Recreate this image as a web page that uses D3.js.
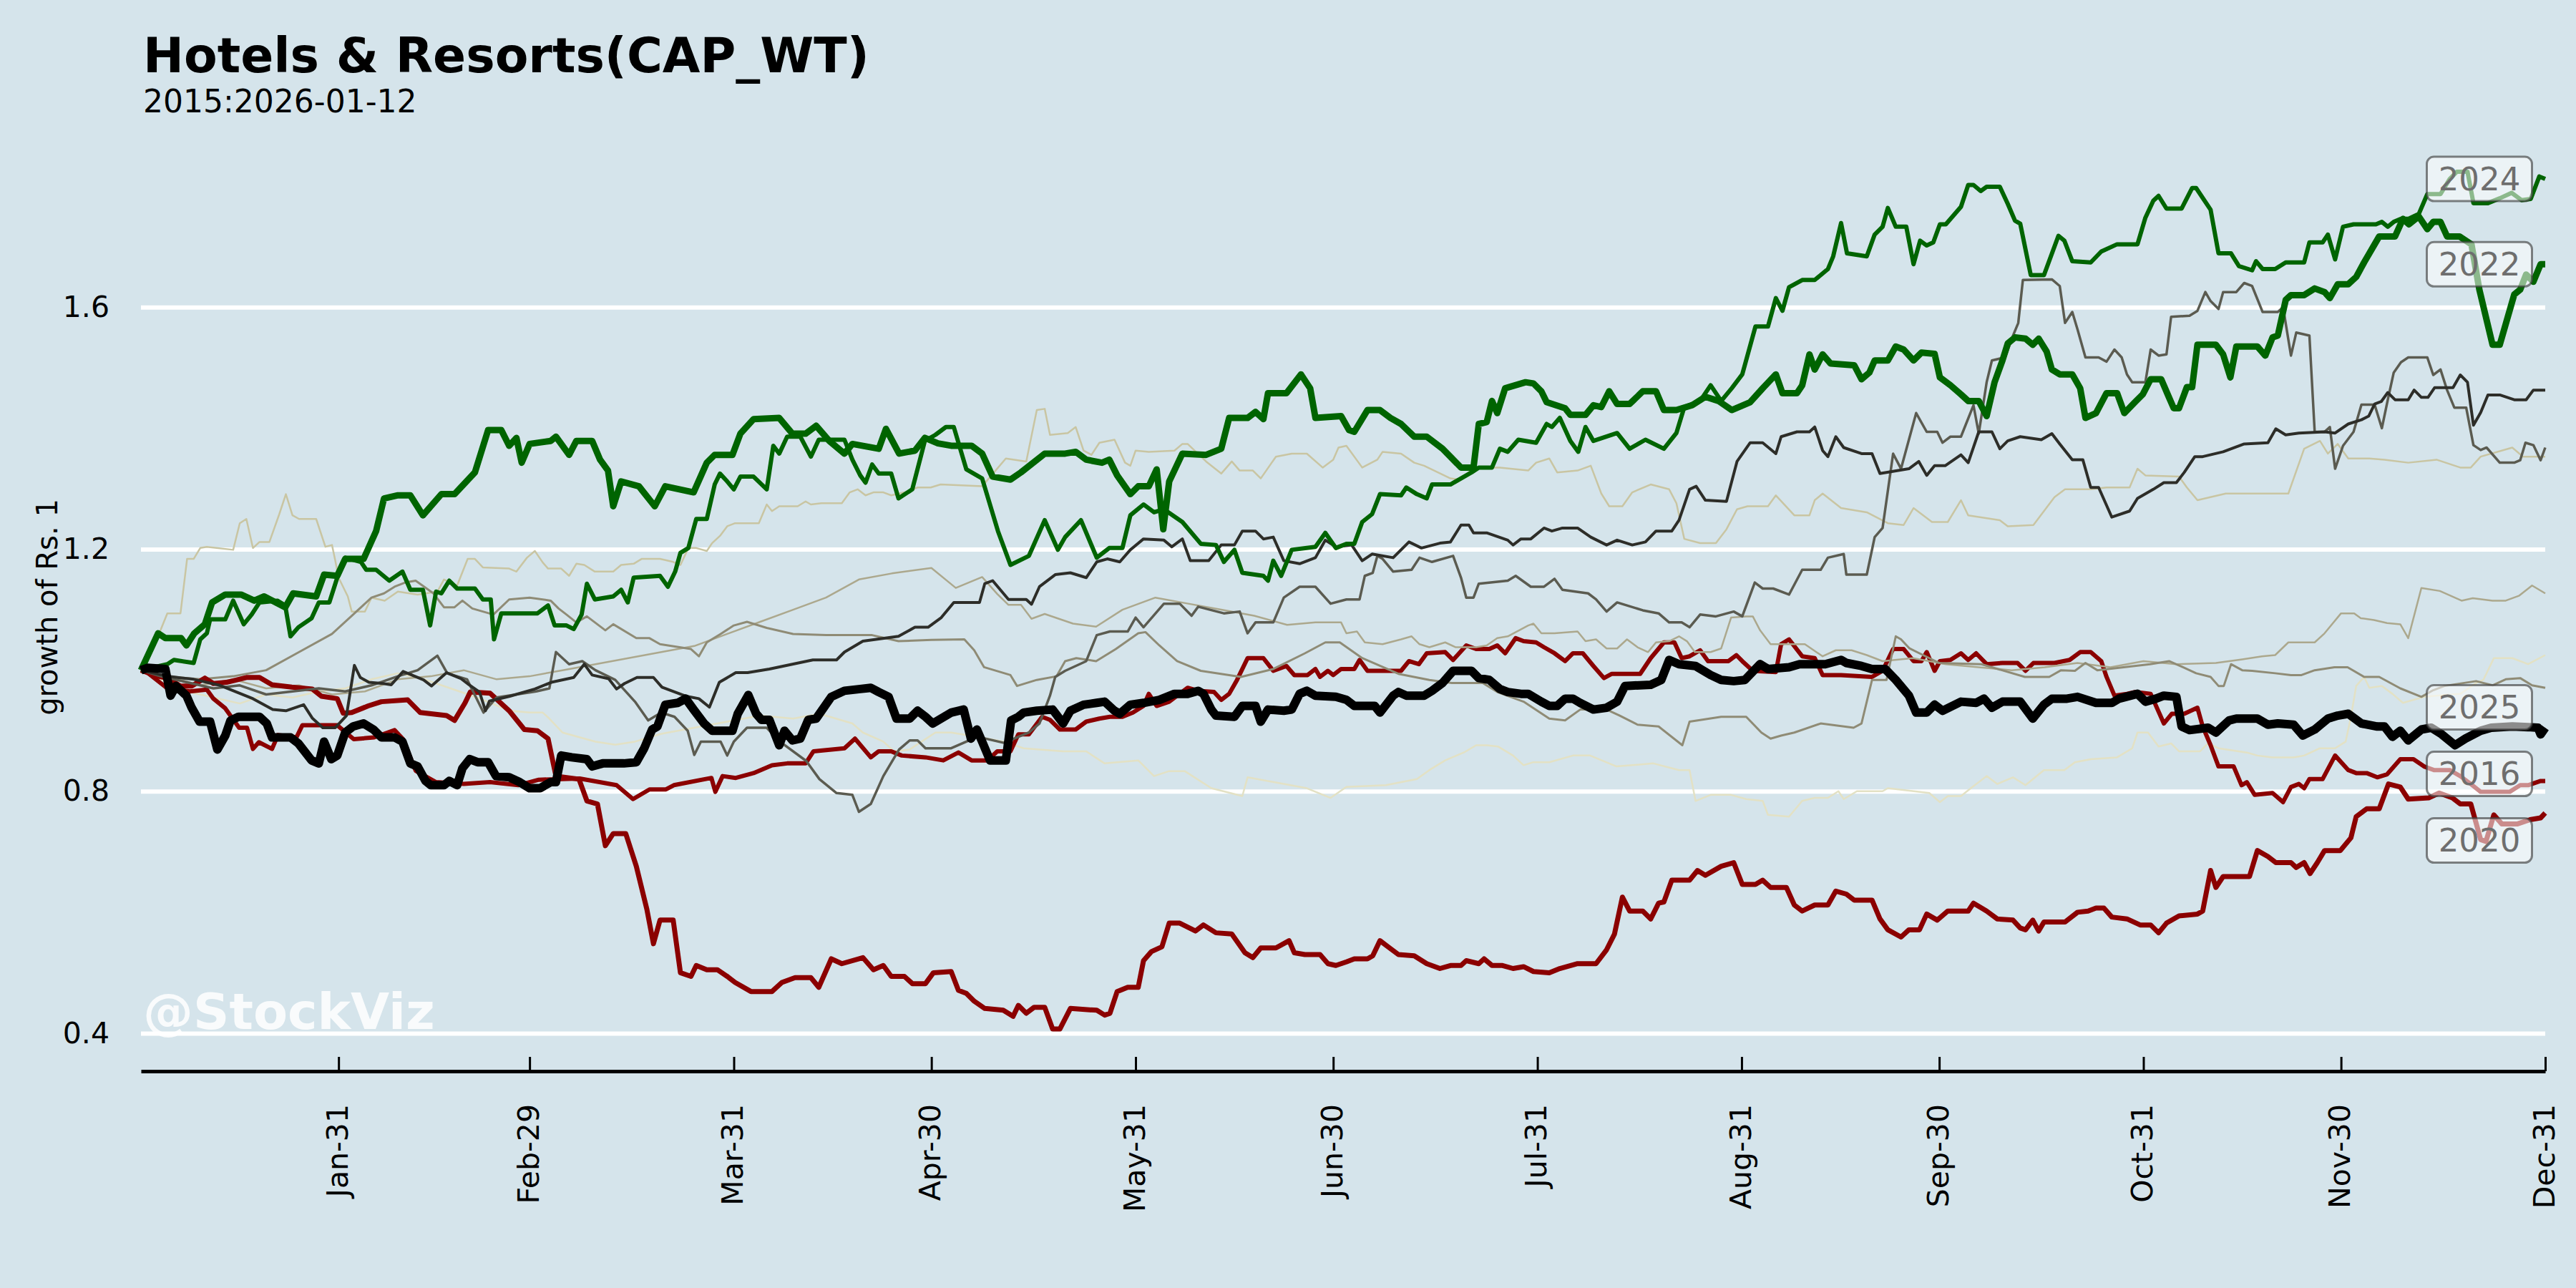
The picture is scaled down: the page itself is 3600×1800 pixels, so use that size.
<!DOCTYPE html>
<html>
<head>
<meta charset="utf-8">
<script src="https://cdn.jsdelivr.net/npm/d3@7"></script>
<style>
  html, body { margin: 0; padding: 0; background: #d5e4eb; }
  svg { display: block; }
  text { font-family: "DejaVu Sans", sans-serif; }
</style>
</head>
<body>
<div id="chart"></div>
<script>
const width = 3600, height = 1800;

const title = "Hotels & Resorts(CAP_WT)";
const subtitle = "2015:2026-01-12";
const yLabel = "growth of Rs. 1";
const watermark = "@StockViz";

const yTicks = [0.4, 0.8, 1.2, 1.6];
const xTickDays = [31, 60, 91, 121, 152, 182, 213, 244, 274, 305, 335, 366];
const xTickLabels = ["Jan-31", "Feb-29", "Mar-31", "Apr-30", "May-31", "Jun-30",
                     "Jul-31", "Aug-31", "Sep-30", "Oct-31", "Nov-30", "Dec-31"];

// [day of year, growth of Rs. 1]
const y2015 = [[1,1.0],[4,0.985],[8,0.965],[12,0.955],[16,0.945],[20,0.96],[24,0.955],[28,0.965],[32,0.97],[36,0.985],[40,0.995],[44,0.985],[48,0.97],[52,0.955],[57,0.933],[60,0.93],[62,0.93],[63,0.92],[65,0.897],[70,0.882],[73,0.877],[76,0.882],[80,0.895],[85,0.905],[90,0.915],[95,0.925],[100,0.92],[104,0.928],[109,0.912],[110.6,0.897],[113.7,0.882],[115.3,0.866],[117.7,0.869],[121.6,0.897],[124,0.897],[128,0.89],[132,0.882],[135,0.871],[141,0.866],[144.5,0.866],[147.3,0.846],[152.4,0.851],[154.8,0.825],[157,0.833],[159.5,0.833],[163.5,0.805],[168.2,0.792],[169,0.823],[173,0.815],[178,0.805],[181.6,0.789],[184,0.807],[190,0.81],[194.7,0.82],[196.6,0.835],[199,0.851],[202,0.865],[203.7,0.876],[205.3,0.876],[207,0.874],[209.3,0.859],[210.9,0.843],[212.4,0.848],[214.8,0.848],[218.4,0.859],[221,0.859],[225,0.841],[230.6,0.846],[234.5,0.835],[236.1,0.835],[237,0.784],[239.3,0.794],[242.4,0.794],[244.7,0.787],[247.2,0.784],[248,0.761],[251.2,0.758],[253.2,0.784],[255.1,0.789],[257.1,0.789],[258.7,0.8],[259.5,0.787],[261.5,0.8],[265.4,0.8],[266.2,0.805],[272.5,0.797],[274.1,0.782],[275.3,0.792],[277.3,0.792],[278.8,0.805],[281.2,0.825],[282.8,0.812],[285.2,0.823],[287.1,0.81],[289.9,0.835],[293,0.835],[294.6,0.848],[297,0.853],[301,0.856],[303.3,0.871],[304.1,0.897],[305.7,0.897],[307.3,0.874],[309.2,0.879],[310.4,0.866],[313.6,0.866],[314.8,0.879],[316.4,0.871],[320.7,0.864],[322.3,0.859],[324.6,0.856],[327.8,0.856],[329.4,0.859],[331.8,0.871],[334.1,0.871],[335.7,0.882],[336.5,0.923],[337.3,0.974],[338.5,0.989],[339.3,0.971],[341.2,0.974],[342.8,0.961],[344.4,0.946],[347.6,0.956],[350.7,0.959],[353.1,0.961],[355.5,0.979],[356.6,0.984],[358.2,1.02],[361,1.02],[363.4,1.01],[366,1.025]];

const y2016 = [[1,1.0],[2,0.996],[5,0.97],[8.4,0.965],[11,0.968],[12,0.953],[13.8,0.937],[15.9,0.905],[17.1,0.905],[18,0.87],[18.9,0.881],[20.9,0.87],[21.8,0.893],[24.6,0.889],[25.5,0.909],[30.8,0.909],[33.3,0.886],[36.4,0.889],[39.5,0.901],[40.8,0.886],[42.7,0.834],[45.8,0.815],[50,0.812],[54,0.815],[58.3,0.81],[61.4,0.819],[67.6,0.821],[73.2,0.81],[75.7,0.787],[78.2,0.803],[80.7,0.803],[81.9,0.81],[87.6,0.822],[88.2,0.799],[89.3,0.825],[91.3,0.822],[94,0.83],[96.8,0.843],[99.1,0.846],[101.9,0.846],[103.1,0.866],[107.8,0.871],[109.4,0.887],[111.8,0.856],[113,0.866],[114.9,0.866],[116.5,0.859],[120.1,0.856],[122.8,0.851],[125.1,0.864],[127.1,0.851],[129.5,0.851],[131,0.866],[133,0.866],[134.2,0.894],[135.8,0.894],[137.8,0.923],[139,0.918],[140.5,0.902],[142.9,0.902],[144.5,0.915],[146.5,0.92],[148.1,0.923],[150,0.923],[151.6,0.93],[153.2,0.941],[154,0.961],[155.2,0.941],[157.1,0.948],[159.9,0.971],[161.5,0.966],[163.9,0.964],[165,0.951],[166.2,0.961],[167.4,0.984],[169,1.02],[171.4,1.02],[172.9,0.999],[174.9,1.007],[176.1,0.992],[178.1,0.992],[179.3,1.002],[180,0.989],[181.2,0.999],[182,0.992],[183.2,1.002],[185.2,1.002],[186,1.017],[187.2,0.999],[192.3,0.999],[193.5,1.015],[195,1.01],[196.2,1.028],[199,1.03],[200.2,1.017],[202.2,1.041],[203.7,1.035],[205.7,1.035],[206.9,1.041],[208.1,1.028],[209.7,1.053],[210.9,1.048],[212.8,1.046],[214,1.038],[215.6,1.028],[217.2,1.015],[218.4,1.028],[219.9,1.028],[221.5,1.007],[223.1,0.987],[224.3,0.994],[228.6,0.994],[230.2,1.02],[232.2,1.046],[233.8,1.046],[234.9,1.02],[236.1,1.023],[237.7,1.033],[238.9,1.015],[242,1.015],[243.2,1.025],[244.1,1.015],[245.7,0.999],[249.2,0.997],[250,1.043],[251.2,1.051],[253.2,1.023],[255.1,1.02],[256.3,0.992],[259.1,0.992],[263.8,0.989],[265.4,0.999],[267,1.035],[268.6,1.035],[270.1,1.015],[271.3,1.015],[272.1,1.03],[273.3,0.999],[274.1,1.015],[275.7,1.017],[277.3,1.028],[278.4,1.017],[279.6,1.028],[281.2,1.01],[283.6,1.012],[285.9,1.012],[287.1,0.999],[288.3,1.012],[291.5,1.012],[293.8,1.017],[295.4,1.03],[297,1.03],[298.6,1.015],[299.4,0.989],[300.6,0.958],[302.5,0.961],[303.7,0.964],[306.1,0.961],[308.1,0.912],[309.3,0.928],[311.2,0.928],[313.2,0.938],[314,0.907],[315.2,0.876],[316.4,0.841],[318.7,0.841],[319.9,0.81],[320.7,0.815],[321.9,0.794],[324.6,0.797],[326.2,0.782],[327.4,0.807],[328.6,0.812],[329.4,0.805],[330.2,0.82],[332.2,0.82],[334.1,0.859],[336.1,0.835],[337.3,0.83],[338.9,0.83],[340.5,0.823],[342,0.828],[344,0.853],[346,0.853],[347.6,0.841],[349.1,0.835],[351.5,0.835],[353.1,0.825],[354.7,0.812],[356.2,0.799],[360.6,0.799],[362.2,0.81],[363.4,0.81],[365.3,0.817],[366,0.817]];

const y2017 = [[1,1.0],[4,1.067],[5,1.094],[7,1.094],[8,1.184],[9,1.184],[10,1.202],[11,1.204],[15,1.199],[16,1.243],[17,1.25],[18,1.202],[19,1.212],[20.5,1.212],[22,1.258],[23,1.291],[24,1.256],[25,1.25],[27.6,1.25],[29,1.204],[30,1.207],[30.5,1.181],[31,1.153],[32.4,1.122],[33,1.097],[35,1.097],[36,1.12],[38,1.115],[40,1.13],[43,1.125],[46,1.13],[47,1.15],[49,1.14],[50.6,1.184],[51.7,1.184],[52.9,1.17],[56.9,1.168],[58,1.163],[59.6,1.186],[60.8,1.197],[62,1.178],[62.8,1.168],[64.8,1.168],[66,1.156],[67.1,1.176],[68.3,1.174],[69.9,1.163],[72.7,1.163],[73.9,1.174],[75.8,1.176],[77,1.184],[79.8,1.184],[81.8,1.179],[82.9,1.174],[84.1,1.202],[85.3,1.202],[86.9,1.197],[87.7,1.21],[88.9,1.222],[90,1.238],[91.2,1.243],[94.8,1.243],[96,1.274],[96.8,1.263],[97.9,1.271],[100.7,1.271],[101.9,1.279],[102.7,1.274],[104.3,1.276],[107.4,1.276],[108.6,1.294],[109.8,1.299],[111,1.289],[112.2,1.294],[113.7,1.294],[114.9,1.289],[116.9,1.294],[118.9,1.302],[120.9,1.302],[122.4,1.307],[128.7,1.304],[132.3,1.35],[135.4,1.345],[137,1.43],[138.2,1.432],[139,1.389],[141.7,1.392],[142.9,1.402],[144.1,1.363],[145.3,1.356],[146.5,1.376],[148.8,1.381],[150.4,1.343],[151.2,1.338],[152,1.363],[154,1.361],[157.9,1.363],[159.1,1.374],[159.9,1.374],[162.7,1.345],[165,1.325],[166.6,1.345],[167.8,1.33],[169.8,1.33],[171,1.317],[173.3,1.353],[175.7,1.358],[178,1.358],[180.4,1.335],[182,1.348],[182.8,1.368],[184,1.371],[186.4,1.335],[188.7,1.348],[189.5,1.361],[192.3,1.358],[194.3,1.343],[195.8,1.338],[199.8,1.317],[201.4,1.315],[203.3,1.335],[207.3,1.335],[211.6,1.33],[212.8,1.343],[214.8,1.35],[216,1.327],[219.1,1.33],[221.1,1.338],[222.7,1.292],[223.9,1.271],[225.9,1.271],[227.4,1.294],[230.2,1.307],[233,1.299],[234.1,1.276],[235.3,1.217],[237.7,1.21],[240.1,1.21],[241.7,1.233],[243.3,1.266],[244.9,1.271],[248,1.271],[249.2,1.289],[252,1.256],[254.3,1.256],[255.1,1.281],[256.3,1.292],[259.1,1.268],[263,1.261],[266.2,1.243],[268.6,1.24],[270.1,1.268],[272.9,1.245],[275.3,1.245],[277.3,1.281],[278.4,1.256],[283.2,1.248],[284.4,1.238],[288.3,1.24],[289.9,1.263],[291.5,1.286],[293.1,1.299],[297,1.299],[299.4,1.302],[302.9,1.302],[304.1,1.333],[305.3,1.322],[310.4,1.32],[311.6,1.302],[313.2,1.281],[317.5,1.292],[327,1.292],[329.4,1.366],[331.8,1.379],[333,1.358],[334.5,1.374],[336.1,1.35],[339.3,1.35],[341.6,1.348],[345.2,1.343],[349.5,1.348],[353.1,1.335],[354.7,1.335],[356.2,1.353],[361,1.368],[362.6,1.353],[366,1.353]];

const y2018 = [[1,1.0],[5,0.99],[10,0.975],[15,0.985],[20,0.97],[25,0.975],[30,0.96],[35,0.965],[40,0.985],[45,0.99],[50,1.0],[55,0.985],[60,0.99],[65,1.0],[70,1.01],[75,1.02],[80,1.03],[85,1.04],[90,1.06],[95,1.08],[100,1.1],[105,1.12],[110,1.15],[115,1.16],[121,1.169],[124.7,1.136],[128.7,1.154],[131,1.126],[132.7,1.108],[134.6,1.108],[136.2,1.085],[138.2,1.093],[142.5,1.077],[146,1.072],[150,1.1],[155,1.12],[160,1.11],[165,1.1],[170,1.09],[175,1.075],[179.3,1.079],[183.2,1.079],[184,1.061],[185.6,1.064],[186.8,1.046],[189.5,1.043],[192.3,1.051],[193.9,1.056],[195.1,1.043],[196.6,1.038],[199,1.046],[200.6,1.038],[203.7,1.038],[205.3,1.041],[206.9,1.053],[208.5,1.056],[211.6,1.074],[212.4,1.077],[213.6,1.061],[215.6,1.061],[219.1,1.064],[220.3,1.048],[221.9,1.051],[223.5,1.036],[225.1,1.036],[226.6,1.051],[228.2,1.038],[229.8,1.03],[231,1.046],[233,1.048],[234.5,1.056],[235.7,1.048],[236.9,1.03],[239.3,1.03],[240.9,1.036],[242.4,1.087],[244.7,1.089],[245.7,1.089],[246.8,1.066],[248.4,1.043],[253.6,1.043],[256.3,1.023],[258.3,1.033],[260.7,1.033],[263,1.025],[265.4,1.015],[270,1.02],[275,1.01],[280,1.005],[285,1.0],[290,1.005],[295,1.012],[300,1.005],[305,1.015],[310,1.01],[316,1.012],[320,1.018],[323,1.023],[325,1.025],[327,1.046],[331,1.046],[332.5,1.061],[335,1.094],[337,1.094],[338,1.086],[340,1.083],[342,1.078],[344,1.076],[345.2,1.053],[347.2,1.136],[350,1.131],[353.3,1.115],[355,1.119],[358,1.115],[360,1.115],[362,1.123],[364,1.14],[366,1.127]];

const y2019 = [[1,1.0],[5,0.99],[10,0.985],[15,0.99],[20,1.0],[25,1.03],[30,1.06],[33,1.09],[36,1.12],[37.9,1.127],[39.5,1.138],[41.1,1.145],[42.7,1.148],[45.4,1.127],[47,1.104],[48.6,1.104],[49.8,1.115],[51.3,1.102],[54.5,1.092],[56.9,1.117],[60,1.12],[63.2,1.115],[64.4,1.102],[65.6,1.092],[67.1,1.079],[68.7,1.089],[71.5,1.066],[72.7,1.076],[76.2,1.053],[78.2,1.053],[79.8,1.043],[84.5,1.035],[85.7,1.023],[86.9,1.046],[89,1.06],[91,1.074],[93,1.08],[96,1.07],[100,1.06],[105,1.058],[112,1.058],[116,1.048],[121,1.05],[126,1.051],[127.5,1.033],[129,1.005],[133,0.992],[134,0.974],[137,0.984],[140,0.99],[141.3,1.015],[143,1.02],[146,1.015],[149,1.035],[152.4,1.061],[153.5,1.063],[155.6,1.041],[158.3,1.015],[161.9,0.999],[168,0.989],[172.9,1.002],[177.7,1.028],[180.8,1.046],[183,1.046],[186.4,1.02],[191.9,0.994],[196.6,0.984],[200,0.979],[204.7,0.979],[206.9,0.964],[210.9,0.948],[214.8,0.92],[217.2,0.917],[219.5,0.935],[223.5,0.935],[225.5,0.925],[228.2,0.91],[231.4,0.907],[235,0.876],[236.1,0.915],[240.9,0.923],[244.7,0.923],[247,0.897],[248.4,0.887],[250,0.892],[252,0.897],[256,0.912],[261,0.905],[262.2,0.912],[263.8,0.984],[266,0.984],[267.4,1.056],[268.2,1.051],[269.5,1.036],[271,1.028],[272.5,1.02],[274,1.012],[280.4,1.01],[287,0.989],[290.7,0.989],[292.5,1.0],[294.6,0.999],[296.2,1.012],[298,1.0],[302,1.005],[306,1.01],[308.9,1.015],[311,1.005],[313,0.995],[315.2,0.989],[316.4,0.974],[317.2,0.974],[318.3,1.01],[320,1.0],[321.5,0.999],[325,0.995],[327.4,0.992],[329,0.992],[331,1.0],[334,1.005],[336,1.005],[338.5,0.989],[340.8,0.989],[344,0.97],[347.2,0.956],[349,0.967],[350.7,0.974],[355.5,0.982],[358,0.975],[360,0.985],[362.2,0.987],[364,0.975],[366,0.971]];

const y2020 = [[1,1.0],[3.6,0.99],[5,0.987],[7,0.974],[8.7,0.974],[10.7,0.987],[12,0.978],[14,0.98],[17,0.988],[19,0.988],[20.9,0.976],[23.9,0.972],[27,0.969],[28.4,0.957],[30.8,0.953],[31.7,0.929],[33,0.93],[35.5,0.941],[37.5,0.948],[41.5,0.951],[43.4,0.93],[47.4,0.925],[48.6,0.917],[50.2,0.946],[51,0.964],[54,0.962],[56.9,0.933],[59.2,0.902],[61.2,0.9],[62.8,0.887],[64,0.825],[67.5,0.82],[68.7,0.784],[70.3,0.779],[71.5,0.71],[72.7,0.73],[74.6,0.73],[76.2,0.676],[77.8,0.605],[78.8,0.548],[79.8,0.587],[81.8,0.587],[82.9,0.5],[84.5,0.494],[85.3,0.512],[86.9,0.505],[88.5,0.505],[90,0.494],[91.2,0.484],[93.6,0.469],[96.8,0.469],[98.3,0.484],[100.3,0.492],[102.7,0.492],[103.9,0.476],[105.8,0.523],[107.4,0.515],[110.6,0.525],[112.2,0.505],[113.7,0.512],[114.9,0.494],[116.9,0.494],[118.1,0.482],[120.1,0.482],[121.3,0.5],[124,0.502],[125.1,0.471],[126.3,0.466],[127.5,0.453],[129.1,0.441],[131.9,0.438],[133.4,0.428],[134.2,0.446],[135.4,0.433],[136.6,0.443],[138.2,0.443],[139.4,0.407],[140.5,0.407],[142.1,0.441],[146.1,0.438],[147.3,0.43],[148.1,0.433],[149.2,0.469],[150.8,0.476],[152.4,0.476],[153.2,0.52],[154.4,0.535],[156,0.543],[157.1,0.582],[158.7,0.582],[161.1,0.569],[162.3,0.579],[164.2,0.566],[166.6,0.564],[168.6,0.533],[169.8,0.525],[171,0.541],[173.3,0.541],[175.3,0.553],[176.1,0.533],[177.7,0.53],[180,0.53],[181.2,0.515],[182.4,0.512],[184,0.518],[185.2,0.523],[187.2,0.523],[188,0.528],[189.1,0.553],[190.3,0.543],[191.9,0.53],[194.3,0.528],[196.2,0.515],[198.2,0.507],[199.8,0.512],[201.4,0.512],[202.2,0.52],[204.1,0.515],[204.9,0.523],[206.1,0.512],[207.7,0.512],[209.3,0.507],[210.9,0.51],[212.4,0.502],[214.8,0.5],[216.4,0.507],[219.1,0.515],[221.9,0.515],[223.5,0.538],[224.7,0.564],[225.9,0.625],[227,0.602],[229,0.602],[230.2,0.589],[231.4,0.615],[232.2,0.617],[233.4,0.653],[236.1,0.653],[237.3,0.669],[238.5,0.661],[240.9,0.676],[242.8,0.682],[244.1,0.646],[246.1,0.646],[247.2,0.653],[248.4,0.641],[250.8,0.641],[252,0.612],[253.2,0.602],[255.1,0.612],[257.1,0.612],[258.3,0.635],[259.9,0.63],[261.1,0.62],[263.8,0.62],[265,0.589],[266.2,0.571],[268.2,0.559],[269.4,0.571],[271,0.571],[272.1,0.597],[273.7,0.587],[275.3,0.602],[278.4,0.602],[279.2,0.615],[281.2,0.602],[282.8,0.589],[285.2,0.587],[286.3,0.574],[287.1,0.571],[288.2,0.587],[289.1,0.569],[289.9,0.584],[293.1,0.584],[295,0.6],[296.6,0.602],[297.8,0.607],[299,0.607],[300.2,0.592],[302.5,0.589],[304.5,0.579],[306.1,0.579],[307.3,0.566],[308.5,0.582],[310.4,0.594],[313.2,0.597],[314,0.602],[315.2,0.669],[316,0.641],[317.1,0.659],[321.1,0.659],[322.3,0.702],[323.9,0.692],[325.1,0.682],[327.4,0.682],[328.2,0.674],[329.4,0.682],[330.3,0.664],[331.4,0.682],[332.5,0.702],[334.9,0.702],[336.5,0.723],[337.3,0.758],[338.9,0.771],[340.8,0.771],[342.2,0.812],[344,0.807],[345.2,0.787],[348.3,0.789],[349.9,0.797],[351.9,0.789],[353.1,0.779],[354.7,0.779],[356.2,0.72],[357,0.717],[358.2,0.761],[359.4,0.746],[361.8,0.746],[363.7,0.753],[365.3,0.756],[366,0.764]];

const y2021 = [[1,1.0],[4,0.99],[8,0.98],[12,0.97],[16,0.975],[20,0.96],[24,0.965],[28,0.97],[32,0.965],[36,0.975],[40,0.99],[43,1.0],[46,1.024],[47.5,0.995],[49,0.99],[50.5,0.985],[53,0.93],[55,0.955],[58,0.96],[61,0.965],[63,0.97],[64,1.03],[66,1.01],[68,1.015],[70,1.0],[73,0.984],[76,0.948],[78,0.917],[80,0.93],[82,0.923],[84,0.9],[85,0.86],[86,0.882],[89,0.882],[90,0.859],[91,0.882],[93,0.905],[96,0.905],[98,0.882],[102,0.85],[104,0.82],[106.6,0.797],[109,0.794],[110,0.766],[111.8,0.779],[113.7,0.825],[116.1,0.869],[117.7,0.884],[118.9,0.884],[120.1,0.871],[124,0.871],[128,0.89],[132,0.88],[135.8,0.897],[137.4,0.912],[139,0.958],[139.8,0.989],[141.3,0.999],[144.5,1.015],[146.1,1.058],[148.1,1.064],[150.8,1.064],[152,1.087],[153.2,1.071],[156.3,1.11],[158.7,1.11],[160.5,1.09],[161.5,1.105],[165.4,1.094],[167.8,1.097],[169,1.061],[170.2,1.079],[172.9,1.079],[174.5,1.12],[176.9,1.138],[179.3,1.138],[181.6,1.11],[184,1.117],[186,1.117],[186.8,1.156],[188,1.161],[188.7,1.189],[189.5,1.184],[191.1,1.163],[193.9,1.166],[195.1,1.186],[197,1.179],[200.2,1.189],[201.4,1.153],[202.2,1.12],[203.3,1.12],[204.1,1.143],[208.5,1.148],[209.7,1.156],[212,1.138],[214,1.138],[215.6,1.151],[216.8,1.133],[220.7,1.127],[221.9,1.117],[223.5,1.097],[225.1,1.112],[229,1.099],[231.4,1.094],[233,1.079],[234.9,1.079],[236.1,1.071],[237.7,1.092],[240.1,1.089],[242.8,1.097],[244.1,1.089],[246,1.145],[247.2,1.135],[248.8,1.135],[251.2,1.125],[253.2,1.166],[256,1.166],[257.1,1.186],[259.5,1.192],[259.9,1.158],[263,1.158],[264.2,1.22],[265.4,1.235],[267,1.358],[268.2,1.333],[270.5,1.425],[272.1,1.394],[273.7,1.394],[274.5,1.376],[275.7,1.386],[277.3,1.386],[279.2,1.438],[280,1.391],[281.2,1.476],[282,1.512],[284,1.517],[285.2,1.553],[286,1.574],[286.7,1.645],[291.1,1.646],[292.3,1.635],[293.1,1.574],[294.2,1.592],[295,1.563],[296.2,1.517],[298.2,1.517],[299.4,1.51],[300.6,1.53],[301.7,1.517],[302.5,1.489],[303.3,1.476],[305.3,1.476],[306.1,1.53],[307.3,1.52],[308.5,1.522],[309.2,1.584],[312,1.586],[313.2,1.594],[314.4,1.625],[315.2,1.61],[316.4,1.597],[317.1,1.625],[319.1,1.625],[320.3,1.64],[321.5,1.635],[323.1,1.592],[325.4,1.592],[326.2,1.6],[327.4,1.52],[328.2,1.558],[330.2,1.553],[331,1.394],[332.5,1.394],[333.3,1.402],[334.1,1.333],[335.3,1.371],[336.9,1.394],[338.1,1.439],[340.1,1.439],[341.2,1.4],[342.1,1.447],[343.0,1.492],[344.1,1.509],[345.2,1.517],[348.1,1.517],[349.0,1.488],[350.1,1.497],[351.1,1.463],[352.2,1.434],[354.0,1.434],[355.1,1.372],[356.2,1.364],[357.1,1.368],[359.1,1.343],[361.3,1.343],[362.2,1.347],[363.0,1.376],[364.2,1.372],[365.3,1.347],[366,1.368]];

const y2022 = [[1,1.0],[3.6,1.061],[4.7,1.053],[7.1,1.053],[7.9,1.041],[9.1,1.061],[10.7,1.076],[11.8,1.112],[13.8,1.125],[16.2,1.125],[18.2,1.115],[19.7,1.122],[22.9,1.104],[24.1,1.127],[27.6,1.122],[28.8,1.158],[30.8,1.156],[32,1.184],[34.8,1.184],[36.7,1.23],[37.9,1.284],[39.9,1.289],[41.9,1.289],[43.8,1.256],[46.6,1.291],[48.6,1.291],[51.7,1.327],[53.7,1.397],[55.7,1.397],[56.9,1.371],[58,1.384],[58.8,1.343],[60,1.374],[63.2,1.379],[64,1.386],[66,1.356],[67.1,1.379],[69.5,1.379],[70.7,1.348],[71.9,1.33],[72.7,1.271],[73.9,1.312],[76.6,1.304],[79,1.271],[80.6,1.304],[84.9,1.294],[86.9,1.343],[88.1,1.356],[90.8,1.356],[92,1.391],[94,1.415],[97.9,1.417],[99.9,1.391],[101.9,1.391],[103.5,1.404],[105.5,1.379],[107.8,1.358],[109,1.374],[113,1.366],[114.1,1.399],[116.1,1.358],[118.5,1.363],[120,1.384],[122,1.375],[124,1.371],[127.1,1.371],[128.7,1.358],[130.3,1.32],[133,1.315],[134.6,1.327],[138.2,1.358],[141.3,1.358],[142.9,1.361],[144.5,1.348],[146.9,1.343],[148,1.348],[149.2,1.322],[151.2,1.291],[152.4,1.304],[154,1.304],[155.2,1.332],[156.2,1.233],[157.1,1.312],[159.1,1.358],[162.7,1.356],[165,1.366],[166.2,1.417],[169,1.417],[170.2,1.427],[171.4,1.415],[172.1,1.458],[174.9,1.458],[177.1,1.489],[178.5,1.466],[179.3,1.417],[183.2,1.42],[184.4,1.397],[185.2,1.394],[187.2,1.43],[189.1,1.43],[190.7,1.417],[192.3,1.407],[194.3,1.386],[196.2,1.386],[198.6,1.366],[201.4,1.335],[203.3,1.335],[204.1,1.407],[205.3,1.41],[206.1,1.445],[206.9,1.425],[208.1,1.466],[211.2,1.476],[212.4,1.474],[213.6,1.461],[214.4,1.443],[217.2,1.433],[218,1.422],[220.3,1.422],[221.5,1.438],[222.7,1.435],[223.9,1.461],[225.1,1.44],[227,1.44],[229,1.461],[231,1.461],[232.2,1.43],[234.1,1.43],[236.5,1.438],[238.5,1.452],[240.5,1.445],[242.5,1.43],[245.3,1.443],[247.2,1.466],[249.2,1.489],[250.2,1.458],[252.4,1.458],[253.2,1.471],[254.3,1.522],[255.1,1.497],[256.3,1.522],[257.5,1.507],[261.1,1.504],[262.2,1.481],[263.4,1.492],[264.2,1.512],[266.2,1.512],[267.4,1.535],[268.6,1.53],[270.1,1.512],[271.3,1.525],[273.3,1.523],[274.1,1.484],[275.7,1.471],[277.3,1.456],[278.4,1.445],[280,1.445],[281.2,1.42],[282.4,1.476],[283.6,1.512],[284.4,1.54],[285.5,1.55],[287.1,1.548],[288.2,1.538],[289.1,1.548],[290.3,1.527],[291.1,1.497],[292.3,1.489],[294.2,1.489],[295.4,1.466],[296.2,1.417],[297.8,1.425],[299.4,1.458],[301,1.458],[302.1,1.425],[303.7,1.443],[304.9,1.456],[306.1,1.481],[307.7,1.481],[308.8,1.453],[309.6,1.433],[310.4,1.433],[311.6,1.468],[312.4,1.468],[313.2,1.538],[316,1.538],[317.1,1.522],[318.2,1.484],[319.1,1.535],[322.3,1.535],[323.5,1.52],[324.6,1.55],[325.4,1.553],[326.6,1.612],[327.4,1.62],[329.4,1.62],[331,1.631],[332.5,1.625],[333.3,1.615],[334.5,1.638],[336.1,1.638],[337.3,1.65],[338.5,1.674],[340.8,1.717],[343.2,1.717],[344.4,1.746],[345.3,1.737],[346.8,1.75],[348.1,1.729],[349,1.741],[350.1,1.741],[351.1,1.717],[353,1.717],[354.8,1.704],[356,1.629],[358,1.538],[359.1,1.538],[361.3,1.621],[362.2,1.629],[363.1,1.654],[364.2,1.642],[365.3,1.671],[366,1.671]];

const y2023 = [[1,1.0],[5,0.99],[9,0.985],[13,0.975],[18,0.953],[21,0.935],[23,0.933],[25.7,0.943],[27,0.921],[28.6,0.905],[30.5,0.905],[32.2,0.925],[33.4,1.008],[34.3,0.988],[35.6,0.98],[37.8,0.978],[39,0.976],[40.8,0.998],[43.9,0.984],[45.1,0.974],[47.4,0.996],[49.6,0.986],[50.8,0.976],[52.4,0.964],[53.3,0.933],[53.9,0.949],[57,0.957],[60.8,0.969],[63.3,0.98],[66.7,0.988],[68.3,1.01],[69.5,0.992],[72,0.986],[73.2,0.969],[74.4,0.978],[76.3,0.988],[78.8,0.988],[80.1,0.972],[83.8,0.957],[85.7,0.953],[87.3,0.939],[88.8,0.98],[91.3,0.996],[93.1,0.996],[96.4,1.002],[103,1.017],[106.6,1.017],[107.8,1.03],[110.6,1.048],[116,1.056],[118.5,1.071],[120.5,1.071],[122.5,1.087],[124.4,1.112],[128.3,1.112],[129.1,1.143],[130.3,1.148],[132.7,1.117],[135.4,1.117],[136.2,1.109],[137.4,1.138],[139.8,1.158],[142.1,1.161],[144.5,1.153],[146.1,1.179],[147.7,1.184],[149.6,1.179],[151.2,1.199],[153.2,1.217],[156.3,1.215],[157.5,1.204],[159.1,1.217],[160.3,1.181],[163.1,1.181],[165,1.207],[167,1.207],[168.2,1.23],[170.2,1.23],[171.4,1.217],[172.9,1.22],[174.5,1.181],[176.9,1.176],[179.3,1.186],[180.8,1.215],[182.4,1.204],[184.8,1.207],[186.4,1.181],[187.9,1.192],[191.1,1.186],[193.5,1.212],[195.4,1.202],[198.2,1.21],[199.8,1.212],[201.4,1.24],[202.6,1.24],[203.3,1.227],[205.3,1.227],[208.5,1.215],[209.3,1.207],[210.5,1.217],[212,1.217],[214,1.235],[215.2,1.23],[216.8,1.235],[219.1,1.235],[221.1,1.22],[223.5,1.207],[225.1,1.215],[227.4,1.207],[229.4,1.212],[231,1.23],[233.4,1.23],[234.5,1.248],[236.1,1.299],[237.1,1.304],[238.5,1.281],[241.7,1.279],[243.3,1.345],[245.3,1.376],[247.2,1.376],[249.2,1.358],[250,1.386],[252.4,1.394],[254.3,1.394],[255.1,1.402],[256.3,1.363],[257.1,1.353],[258.3,1.386],[259.5,1.368],[262.2,1.358],[263.8,1.358],[265,1.325],[269.4,1.333],[270.9,1.345],[272.1,1.322],[273.3,1.338],[274.9,1.338],[277.3,1.356],[278.4,1.343],[280,1.394],[282,1.394],[283.2,1.366],[284.4,1.379],[286.3,1.386],[289.5,1.381],[291.1,1.391],[292.3,1.374],[294.2,1.348],[295.8,1.348],[297,1.302],[298.2,1.302],[300.2,1.253],[302.9,1.263],[304.1,1.284],[306.5,1.299],[308.1,1.31],[310,1.31],[311.2,1.327],[312.8,1.353],[314,1.353],[317.1,1.361],[320.3,1.374],[323.9,1.376],[325.1,1.399],[326.6,1.389],[328.6,1.392],[332.5,1.394],[334.1,1.392],[336.1,1.407],[338.1,1.414],[339.2,1.42],[340.1,1.44],[341.1,1.444],[342.1,1.459],[343.2,1.447],[345.2,1.447],[346.1,1.463],[347.2,1.451],[348.2,1.451],[349.2,1.467],[352,1.467],[353.1,1.488],[354.2,1.476],[355.1,1.405],[356.2,1.426],[357.3,1.455],[359.1,1.455],[361.3,1.447],[363.1,1.447],[364.2,1.463],[366,1.463]];

const y2024 = [[1,1.0],[3,1.005],[5,1.01],[6,1.017],[9,1.012],[10,1.051],[11,1.061],[11.5,1.084],[13.8,1.084],[15,1.115],[16.6,1.076],[17.8,1.092],[19,1.112],[21.7,1.115],[22.9,1.107],[23.7,1.056],[24.9,1.071],[26.9,1.086],[28,1.112],[29.6,1.112],[30.8,1.153],[32,1.186],[34.4,1.179],[35.2,1.166],[36.7,1.166],[38.7,1.148],[40.7,1.163],[41.9,1.133],[43.8,1.133],[44.9,1.074],[45.8,1.13],[46.6,1.127],[47.8,1.148],[49,1.135],[51.7,1.135],[52.9,1.117],[54.1,1.117],[54.6,1.051],[55.7,1.094],[61.2,1.094],[62.8,1.107],[63.8,1.074],[65.6,1.074],[66.7,1.068],[67.9,1.092],[68.7,1.143],[69.9,1.117],[72.7,1.122],[73.9,1.133],[74.9,1.112],[75.8,1.153],[79.8,1.156],[81,1.138],[82.1,1.163],[82.9,1.194],[84.1,1.202],[85.3,1.25],[86.9,1.25],[88.1,1.307],[88.9,1.325],[90,1.312],[91,1.299],[92,1.32],[94,1.32],[96,1.299],[97,1.371],[97.9,1.358],[99.1,1.386],[101.1,1.386],[102.7,1.353],[103.9,1.381],[107.8,1.381],[109,1.348],[110.2,1.322],[111,1.31],[112,1.34],[113,1.325],[114.9,1.325],[116,1.284],[118.1,1.299],[120,1.379],[121.6,1.389],[123.2,1.402],[124.4,1.402],[126.3,1.332],[128.7,1.317],[131.1,1.23],[133,1.174],[135.8,1.189],[138.2,1.248],[140.2,1.199],[141.3,1.22],[143.7,1.248],[146.1,1.186],[148,1.202],[150,1.202],[151.2,1.256],[153.2,1.274],[154.8,1.261],[156.3,1.266],[159.1,1.245],[161.9,1.209],[164.2,1.207],[165.4,1.179],[167,1.199],[168.2,1.161],[171.4,1.156],[172.1,1.148],[172.9,1.181],[174.1,1.156],[175.7,1.199],[179.3,1.204],[180.8,1.227],[182.4,1.202],[184,1.209],[185.2,1.209],[186.4,1.245],[187.9,1.258],[189.1,1.291],[192.3,1.289],[193.1,1.302],[194.7,1.291],[196.2,1.284],[197,1.307],[199.8,1.307],[203,1.327],[204.1,1.335],[206.1,1.335],[207.3,1.366],[208.5,1.361],[210.1,1.381],[212.8,1.376],[214.4,1.407],[215.2,1.402],[216.4,1.417],[218,1.379],[219.2,1.361],[220.3,1.402],[221.5,1.379],[225.1,1.392],[227,1.366],[229.4,1.381],[232.2,1.366],[234.1,1.392],[235.3,1.435],[237.7,1.445],[239.3,1.471],[240.9,1.445],[242.5,1.466],[244.1,1.489],[246.1,1.568],[248,1.568],[249.2,1.615],[250.2,1.594],[251.2,1.633],[253.2,1.645],[255.1,1.645],[257.1,1.663],[257.9,1.684],[259.1,1.739],[260,1.689],[263,1.684],[264.2,1.72],[265.4,1.733],[266.2,1.764],[267.4,1.733],[269,1.733],[270.1,1.671],[271.1,1.71],[272.1,1.702],[273.1,1.707],[274.1,1.737],[275,1.737],[277.3,1.766],[278.4,1.802],[279.2,1.802],[280.3,1.792],[281.2,1.799],[283.2,1.799],[284.4,1.771],[285.5,1.743],[286.3,1.738],[287.9,1.653],[289.9,1.653],[292.1,1.718],[293,1.71],[294.2,1.676],[297,1.674],[298.6,1.692],[301,1.704],[304.1,1.704],[305.3,1.748],[306.5,1.776],[307.3,1.784],[308.5,1.763],[310.8,1.763],[312.4,1.797],[313,1.797],[315.2,1.761],[316.4,1.689],[318.3,1.689],[319.5,1.668],[321.5,1.661],[322.1,1.676],[323.1,1.663],[325,1.663],[326.6,1.674],[329.4,1.674],[330.2,1.707],[332.2,1.707],[333,1.72],[334.1,1.679],[335.3,1.733],[336.9,1.737],[340.3,1.737],[341.2,1.741],[342.1,1.733],[343,1.741],[344.1,1.746],[345.2,1.746],[346.8,1.754],[348.1,1.787],[350.1,1.787],[351.5,1.812],[352.6,1.824],[354.2,1.824],[355.1,1.772],[357.3,1.772],[359.1,1.78],[360.9,1.789],[362.4,1.777],[363.8,1.779],[365.1,1.816],[366,1.812]];

const y2025 = [[1,1.0],[2,1.004],[4.7,1.002],[5.5,0.958],[6.3,0.974],[7.9,0.958],[8.7,0.938],[9.9,0.915],[11.5,0.915],[12.6,0.869],[13.8,0.892],[14.6,0.917],[15.8,0.923],[19,0.923],[20.1,0.912],[20.9,0.889],[23.7,0.889],[24.9,0.879],[26.9,0.851],[28,0.846],[28.8,0.882],[29.9,0.853],[30.8,0.859],[32,0.897],[33.2,0.907],[34.8,0.912],[36.3,0.902],[37.5,0.889],[39.5,0.889],[40.7,0.882],[41.9,0.846],[43,0.841],[44.2,0.817],[45,0.81],[47,0.81],[47.8,0.817],[49,0.81],[49.8,0.838],[50.9,0.853],[52.1,0.848],[53.7,0.848],[54.9,0.825],[56.9,0.823],[58.5,0.815],[60,0.805],[61.6,0.805],[63.2,0.815],[64,0.815],[64.8,0.859],[66.4,0.856],[68.7,0.853],[69.5,0.841],[71.1,0.846],[74.3,0.846],[76.2,0.848],[77.4,0.871],[78.6,0.902],[79.4,0.907],[80.6,0.943],[82.5,0.946],[83.7,0.953],[84.9,0.935],[86.5,0.912],[87.7,0.9],[90.8,0.9],[91.6,0.928],[93.2,0.959],[94.4,0.928],[95.2,0.918],[96.4,0.918],[97.9,0.876],[98.7,0.9],[99.9,0.884],[101.1,0.887],[102.3,0.918],[103.5,0.92],[105.8,0.956],[107.8,0.966],[110.2,0.969],[111.8,0.971],[113,0.964],[114.5,0.956],[115.7,0.92],[117.7,0.92],[118.9,0.933],[120.1,0.923],[121.2,0.912],[124,0.93],[125.9,0.935],[127,0.887],[127.9,0.902],[128.7,0.882],[129.9,0.851],[132.3,0.851],[133.1,0.917],[134.2,0.923],[135,0.93],[137,0.933],[139.4,0.935],[141,0.912],[142.1,0.933],[144.1,0.943],[146.1,0.946],[147.3,0.948],[148.8,0.933],[149.6,0.928],[151.2,0.943],[153.2,0.946],[155.6,0.951],[157.9,0.961],[159.9,0.961],[161.5,0.966],[162.3,0.961],[163.5,0.935],[164.2,0.925],[167,0.923],[168.2,0.941],[170.2,0.941],[171,0.915],[172.1,0.935],[174.5,0.933],[175.7,0.935],[176.9,0.961],[178,0.966],[179.3,0.958],[182.4,0.956],[184,0.951],[185.2,0.941],[188.3,0.941],[189.1,0.93],[191.1,0.958],[191.9,0.964],[193.1,0.958],[195.8,0.958],[197,0.966],[198.6,0.979],[200.2,0.999],[203,0.999],[204.1,0.987],[205.7,0.984],[207.3,0.969],[208.5,0.964],[210.5,0.961],[211.6,0.961],[213.6,0.948],[214.8,0.941],[216,0.941],[217.2,0.953],[218.4,0.953],[219.5,0.946],[221.5,0.935],[223.5,0.938],[225.1,0.948],[226.3,0.974],[230.2,0.976],[231.8,0.984],[233,1.017],[234.5,1.01],[237,1.007],[239.3,0.992],[240.9,0.984],[242.8,0.982],[244.5,0.984],[246.8,1.01],[248,1.002],[251.2,1.005],[252.8,1.01],[256.7,1.01],[259.1,1.017],[259.9,1.012],[262.2,1.007],[263.8,1.002],[265.8,1.002],[267.4,0.984],[269.4,0.958],[270.5,0.93],[272.1,0.93],[273.3,0.943],[274.5,0.933],[277.3,0.948],[279.6,0.946],[280.8,0.953],[282,0.938],[283.6,0.948],[286.3,0.948],[288.2,0.92],[289.9,0.943],[291.1,0.953],[293.4,0.953],[295,0.956],[297.8,0.946],[300.2,0.946],[301.3,0.953],[304.1,0.961],[305.3,0.948],[306.9,0.953],[308.1,0.958],[310,0.956],[310.8,0.907],[312,0.901],[314.8,0.905],[316,0.897],[318,0.917],[319.1,0.92],[322.3,0.92],[323.9,0.91],[325.4,0.912],[327.8,0.91],[329.2,0.892],[331,0.902],[333,0.92],[334.5,0.925],[336.1,0.928],[338.1,0.912],[340.5,0.907],[341.6,0.907],[342.8,0.89],[344,0.9],[345.2,0.884],[347.2,0.902],[348.7,0.905],[350.3,0.894],[352.3,0.876],[353.9,0.887],[356.2,0.9],[357.8,0.905],[361,0.907],[363.4,0.906],[364.9,0.905],[365.3,0.894],[366,0.905]];

const years = [2015, 2016, 2017, 2018, 2019, 2020, 2021, 2022, 2023, 2024, 2025];
const seriesData = [y2015, y2016, y2017, y2018, y2019, y2020, y2021, y2022, y2023, y2024, y2025];
const labelledYears = [2024, 2022, 2025, 2016, 2020];

// styles, kept apart from the values
const lineStyle = {
  2015: { color: "#e3e1c4", w: 2.5 },
  2016: { color: "#8b0000", w: 6 },
  2017: { color: "#c9c5a2", w: 2.5 },
  2018: { color: "#aca88d", w: 2.5 },
  2019: { color: "#8f8b75", w: 3 },
  2020: { color: "#8b0000", w: 7 },
  2021: { color: "#5b5b50", w: 3.5 },
  2022: { color: "#006400", w: 9 },
  2023: { color: "#2d2d28", w: 4 },
  2024: { color: "#006400", w: 6 },
  2025: { color: "#000000", w: 12 }
};

const svg = d3.select("#chart").append("svg")
  .attr("width", width)
  .attr("height", height)
  .style("background", "#d5e4eb");

const x = d3.scaleLinear().domain([1, 366]).range([197, 3557]);
const y = d3.scaleLinear().domain([0.3373, 1.8712]).range([1497, 200]);

// gridlines + y tick labels
const yAxis = svg.append("g")
  .attr("transform", `translate(${x(1)},0)`)
  .call(d3.axisLeft(y).tickValues(yTicks).tickFormat(d3.format(".1f"))
    .tickSize(-(x(366) - x(1))).tickPadding(44));
yAxis.select(".domain").remove();
yAxis.selectAll(".tick line").attr("stroke", "#ffffff").attr("stroke-width", 6);
yAxis.selectAll(".tick text")
  .attr("font-size", 41)
  .attr("font-family", "DejaVu Sans")
  .attr("fill", "#000");

// lines, oldest year first
const line = d3.line().x(d => x(d[0])).y(d => y(d[1]));
const gLines = svg.append("g");
years.forEach((yr, i) => {
  gLines.append("path")
    .datum(seriesData[i])
    .attr("fill", "none")
    .attr("stroke", lineStyle[yr].color)
    .attr("stroke-width", lineStyle[yr].w)
    .attr("stroke-linejoin", "round")
    .attr("stroke-linecap", "butt")
    .attr("d", line);
});

// x axis with inward ticks and vertical labels
const xAxis = svg.append("g")
  .attr("transform", `translate(0,${y.range()[0]})`)
  .call(d3.axisBottom(x).tickValues(xTickDays)
    .tickFormat((d, i) => xTickLabels[i])
    .tickSizeInner(-20).tickSizeOuter(0));
xAxis.select(".domain").attr("stroke", "#000").attr("stroke-width", 5);
xAxis.selectAll(".tick line").attr("stroke", "#000").attr("stroke-width", 3);
xAxis.selectAll(".tick text")
  .attr("font-size", 41)
  .attr("font-family", "DejaVu Sans")
  .attr("fill", "#000")
  .attr("transform", "rotate(-90)")
  .attr("text-anchor", "end")
  .attr("x", -46)
  .attr("y", 0)
  .attr("dy", "0.3em");

// year labels at the line ends, pushed apart where they collide
const labelItems = labelledYears.map(yr => {
  const s = seriesData[years.indexOf(yr)];
  return { year: yr, y: y(s[s.length - 1][1]) };
}).sort((a, b) => a.y - b.y);
const gap = 93;
for (let it = 0; it < 300; it++) {
  for (let i = 1; i < labelItems.length; i++) {
    const d = labelItems[i].y - labelItems[i - 1].y;
    if (d < gap) {
      const s = (gap - d) / 2;
      labelItems[i - 1].y -= s;
      labelItems[i].y += s;
    }
  }
}
const labelX = x(366) - 92;
const gLabels = svg.append("g");
labelItems.forEach(l => {
  gLabels.append("rect")
    .attr("x", labelX - 73.5).attr("y", l.y - 31)
    .attr("width", 147).attr("height", 62)
    .attr("rx", 10)
    .attr("fill", "#ffffff").attr("fill-opacity", 0.55)
    .attr("stroke", "#404040").attr("stroke-opacity", 0.65)
    .attr("stroke-width", 3);
  gLabels.append("text")
    .attr("x", labelX).attr("y", l.y)
    .attr("text-anchor", "middle")
    .attr("dominant-baseline", "central")
    .attr("font-size", 45)
    .attr("fill", "#6e6e6e")
    .text(l.year);
});

// watermark
svg.append("text")
  .attr("x", 200).attr("y", 1438)
  .attr("font-size", 70)
  .attr("font-weight", "bold")
  .attr("fill", "#ffffff")
  .attr("fill-opacity", 0.85)
  .text(watermark);

// titles
svg.append("text")
  .attr("x", 200).attr("y", 101)
  .attr("font-size", 68)
  .attr("font-weight", "bold")
  .attr("fill", "#000")
  .text(title);

svg.append("text")
  .attr("x", 200).attr("y", 157)
  .attr("font-size", 44)
  .attr("fill", "#000")
  .text(subtitle);

svg.append("text")
  .attr("transform", `translate(80,${(y.range()[0] + y.range()[1]) / 2}) rotate(-90)`)
  .attr("text-anchor", "middle")
  .attr("font-size", 40)
  .attr("fill", "#000")
  .text(yLabel);
</script>
</body>
</html>
